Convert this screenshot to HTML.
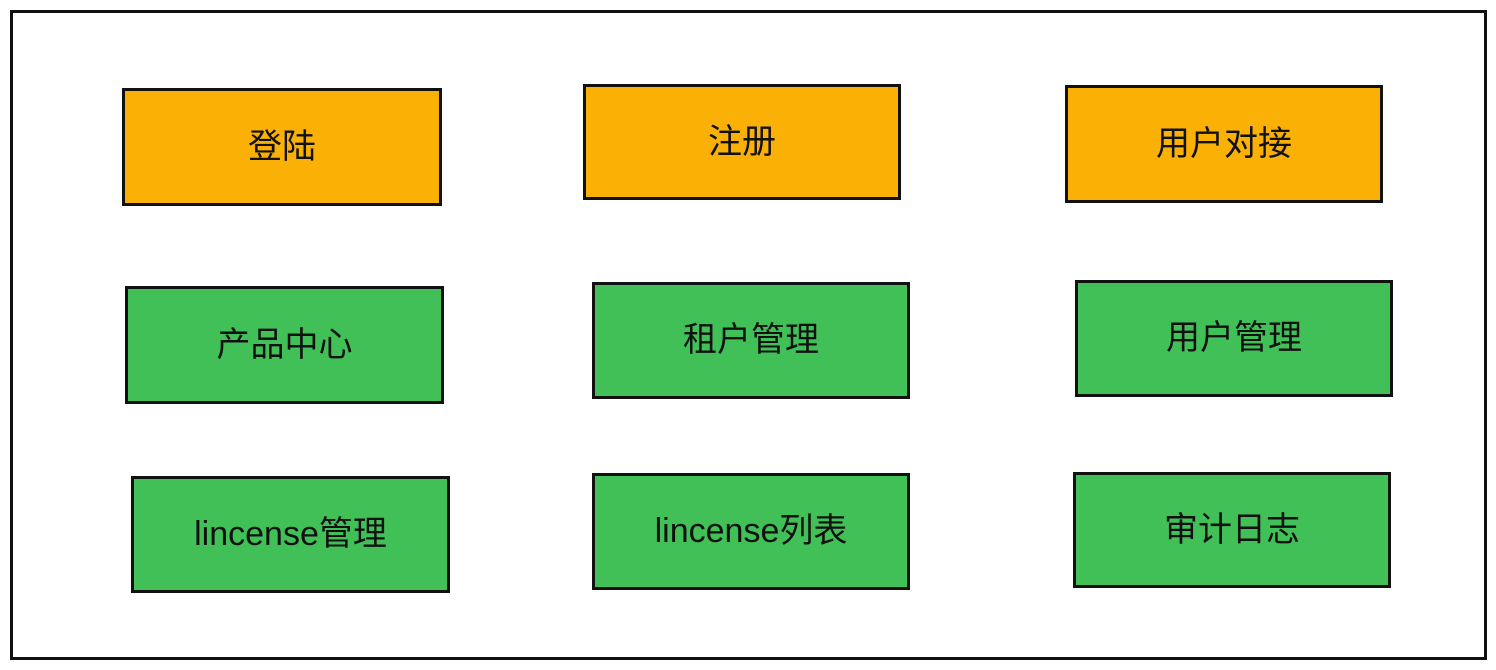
<!DOCTYPE html>
<html><head><meta charset="utf-8"><style>
body{margin:0;width:1496px;height:670px;background:#fff;position:relative;overflow:hidden;font-family:"Liberation Sans","Noto Sans CJK SC",sans-serif;}
.o{position:absolute;left:10px;top:10px;width:1471px;height:644px;border:3px solid #111;}
.b{position:absolute;border:3px solid #111;display:flex;align-items:center;justify-content:center;font-size:34px;color:#111;box-sizing:border-box;padding-bottom:8px;}
.y{background:#fab005}.g{background:#40c057}
</style></head><body>
<div class="o"></div>
<div class="b y" style="left:122px;top:88px;width:320px;height:118px">登陆</div>
<div class="b y" style="left:583px;top:84px;width:318px;height:116px">注册</div>
<div class="b y" style="left:1065px;top:85px;width:318px;height:118px">用户对接</div>
<div class="b g" style="left:125px;top:286px;width:319px;height:118px">产品中心</div>
<div class="b g" style="left:592px;top:282px;width:318px;height:117px">租户管理</div>
<div class="b g" style="left:1075px;top:280px;width:318px;height:117px">用户管理</div>
<div class="b g" style="left:131px;top:476px;width:319px;height:117px">lincense管理</div>
<div class="b g" style="left:592px;top:473px;width:318px;height:117px">lincense列表</div>
<div class="b g" style="left:1073px;top:472px;width:318px;height:116px">审计日志</div>
</body></html>
